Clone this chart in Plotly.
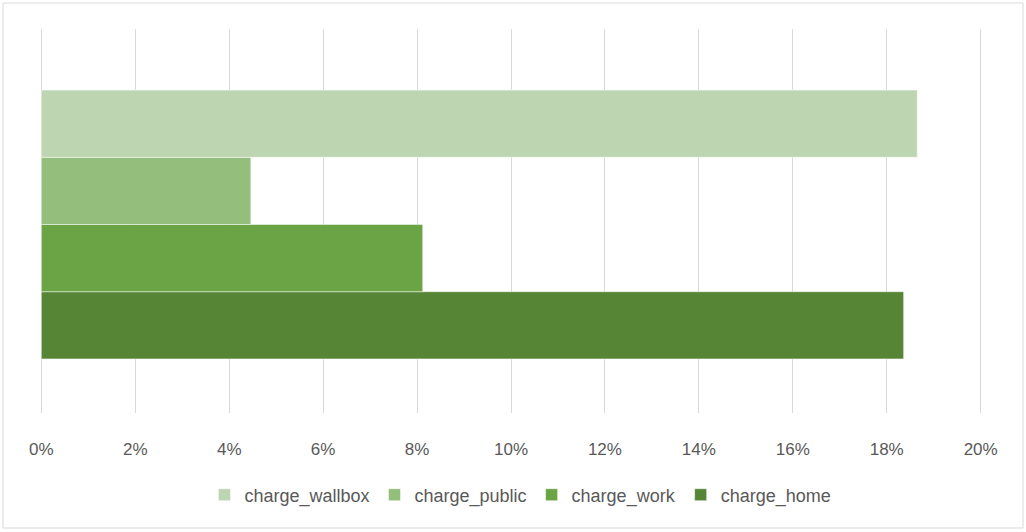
import plotly.graph_objects as go

categories = [""]
series_names = ["charge_home", "charge_work", "charge_public", "charge_wallbox"]
series_values = [[18.36], [8.12], [4.46], [18.65]]
series_colors = ["#568536", "#6AA444", "#94BE7C", "#BED5B1"]
tick_vals = [0, 2, 4, 6, 8, 10, 12, 14, 16, 18, 20]
tick_text = ["0%", "2%", "4%", "6%", "8%", "10%", "12%", "14%", "16%", "18%", "20%"]

W, H = 1026, 532
ml, mr, mt, mb = 39, 43, 29, 119
pw, ph = W - ml - mr, H - mt - mb

fig = go.Figure()
for name, vals, col in zip(series_names, series_values, series_colors):
    fig.add_trace(go.Bar(
        y=categories, x=vals, name=name, orientation="h",
        marker=dict(color=col, line=dict(color="rgba(255,255,255,0.6)", width=0.8)),
    ))

font_family = "Liberation Sans, Arial, sans-serif"
shift = 3.5 / ph
fig.update_layout(
    width=W, height=H,
    margin=dict(l=ml, r=mr, t=mt, b=mb),
    paper_bgcolor="white", plot_bgcolor="white",
    barmode="group", bargap=0.30, bargroupgap=0,
    font=dict(family=font_family, color="#595959", size=17),
    xaxis=dict(range=[-0.05, 20.05], tickmode="array", tickvals=tick_vals, ticktext=tick_text,
               showgrid=True, gridcolor="#D9D9D9", gridwidth=1,
               zeroline=False, showline=False, ticks="",
               tickfont=dict(size=17, color="#595959"), ticklabelstandoff=24),
    yaxis=dict(showgrid=False, zeroline=False, showline=False, showticklabels=False,
               range=[-0.5 + shift, 0.5 + shift]),
    legend=dict(orientation="h", traceorder="reversed",
                x=0.51, xanchor="center", y=-(495 - (mt + ph)) / ph,
                yanchor="middle", font=dict(size=18, color="#595959"),
                itemwidth=30, tracegroupgap=0),
    showlegend=True,
)

# outer chart border
fig.add_shape(type="rect", xref="paper", yref="paper",
              x0=(3 - ml) / pw, x1=(1023 - ml) / pw,
              y0=-(528 - (mt + ph)) / ph, y1=(mt + ph - 3) / ph,
              line=dict(color="#D9D9D9", width=1), fillcolor="rgba(0,0,0,0)", layer="below")

fig.write_html("out.html", config={"displayModeBar": False},
               post_script="document.body.style.margin='0';document.body.style.overflow='hidden';")
